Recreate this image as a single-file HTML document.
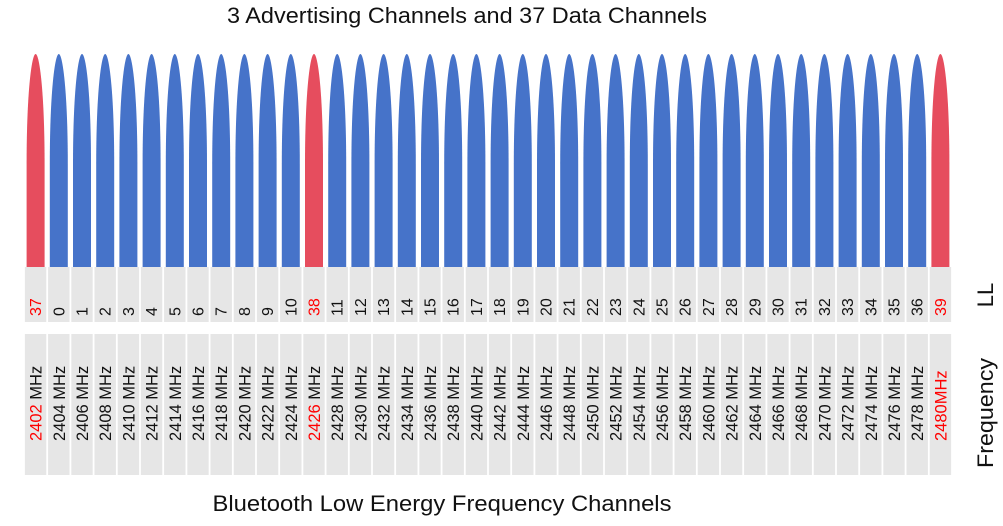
<!DOCTYPE html>
<html><head><meta charset="utf-8"><style>
html,body{margin:0;padding:0;background:#fff;}
svg{display:block;font-family:"Liberation Sans",sans-serif;}
</style></head><body>
<svg id="chart" width="1003" height="526" viewBox="0 0 1003 526">
<text x="467" y="23" font-size="22" text-anchor="middle" textLength="480" lengthAdjust="spacingAndGlyphs" fill="#111">3 Advertising Channels and 37 Data Channels</text>
<g id="bars"></g>
<g id="cells"></g>
<text transform="translate(993,295) rotate(-90)" font-size="22" text-anchor="middle" fill="#111">LL</text>
<text transform="translate(993,413) rotate(-90)" font-size="22" text-anchor="middle" textLength="110" lengthAdjust="spacingAndGlyphs" fill="#111">Frequency</text>
<text x="442" y="511" font-size="22" text-anchor="middle" textLength="459" lengthAdjust="spacingAndGlyphs" fill="#111">Bluetooth Low Energy Frequency Channels</text>
</svg>
<script>
const llChannels = [37,0,1,2,3,4,5,6,7,8,9,10,38,11,12,13,14,15,16,17,18,19,20,21,22,23,24,25,26,27,28,29,30,31,32,33,34,35,36,39];
const frequencies = [2402,2404,2406,2408,2410,2412,2414,2416,2418,2420,2422,2424,2426,2428,2430,2432,2434,2436,2438,2440,2442,2444,2446,2448,2450,2452,2454,2456,2458,2460,2462,2464,2466,2468,2470,2472,2474,2476,2478,2480];
const levels = [1,1,1,1,1,1,1,1,1,1,1,1,1,1,1,1,1,1,1,1,1,1,1,1,1,1,1,1,1,1,1,1,1,1,1,1,1,1,1,1];
const advertising = [37,38,39];

const NS = "http://www.w3.org/2000/svg";
const x0 = 24, x1 = 952, pitch = (x1 - x0) / frequencies.length;
const xCenter = i => x0 + pitch * i + pitch / 2;
const yBase = 267, yTop = 54;
const yScale = v => yBase - (yBase - yTop) * v;
const bars = document.getElementById('bars');
const cells = document.getElementById('cells');

frequencies.forEach((f, i) => {
  const adv = advertising.includes(llChannels[i]);
  const c = xCenter(i), hw = 9, t = yScale(levels[i]);
  const p = document.createElementNS(NS, 'path');
  p.setAttribute('d', `M${c-hw},${yBase} L${c-hw},${t+110} C${c-hw},${t+40} ${c-4},${t} ${c},${t} C${c+4},${t} ${c+hw},${t+40} ${c+hw},${t+110} L${c+hw},${yBase} Z`);
  p.setAttribute('fill', adv ? '#e64d5e' : '#4673c9');
  
  
  bars.appendChild(p);

  const cw = pitch - 1.8;
  const r1 = document.createElementNS(NS, 'rect');
  r1.setAttribute('x', c - cw/2); r1.setAttribute('y', 267); r1.setAttribute('width', cw); r1.setAttribute('height', 55);
  r1.setAttribute('fill', '#e6e6e6');
  
  
  cells.appendChild(r1);
  const r2 = document.createElementNS(NS, 'rect');
  r2.setAttribute('x', c - cw/2); r2.setAttribute('y', 334); r2.setAttribute('width', cw); r2.setAttribute('height', 141);
  r2.setAttribute('fill', '#e6e6e6');
  
  
  cells.appendChild(r2);

  const t1 = document.createElementNS(NS, 'text');
  t1.setAttribute('transform', `translate(${c+5.5},316) rotate(-90)`);
  t1.setAttribute('font-size', '16');
  t1.setAttribute('fill', adv ? '#ff0000' : '#111');
  t1.textContent = llChannels[i];
  
  
  cells.appendChild(t1);

  const t2 = document.createElementNS(NS, 'text');
  t2.setAttribute('transform', `translate(${c+6},441) rotate(-90)`);
  t2.setAttribute('font-size', '16.5');
  t2.setAttribute('fill', '#111');
  if (i === frequencies.length - 1) {
    t2.setAttribute('fill', '#ff0000');
    t2.textContent = f + 'MHz';
  } else if (adv) {
    const s = document.createElementNS(NS, 'tspan');
    s.setAttribute('fill', '#ff0000'); s.textContent = f;
    t2.appendChild(s);
    t2.appendChild(document.createTextNode(' MHz'));
  } else {
    t2.textContent = f + ' MHz';
  }
  
  
  cells.appendChild(t2);
});
</script>
</body></html>
